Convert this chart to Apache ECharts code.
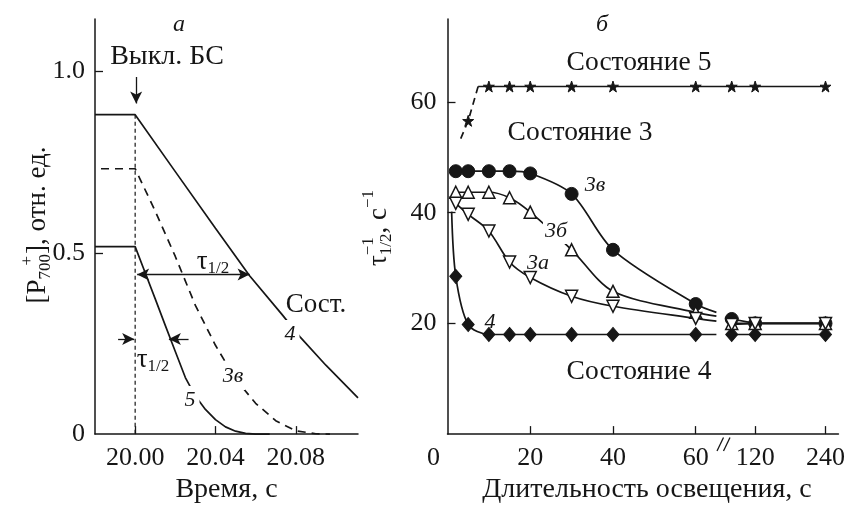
<!DOCTYPE html>
<html><head><meta charset="utf-8">
<script src="https://cdn.jsdelivr.net/npm/echarts@6/dist/echarts.min.js"></script>
<style>html,body{margin:0;padding:0;background:#fff}#c{width:848px;height:509px}</style>
</head><body><div id="c"></div>
<script>
// ---------- Panel а : P700+ kinetics after far-red light is switched off ----------
const tOff = 20.00;
const tA4  = [19.98, 20.00, 20.02, 20.04, 20.057, 20.073, 20.082, 20.095, 20.111];
const pA4  = [0.881, 0.881, 0.724, 0.568, 0.437, 0.331, 0.269, 0.19, 0.10];
const tA3v = [19.983, 20.00, 20.01, 20.02, 20.03, 20.04, 20.05, 20.06, 20.07, 20.08, 20.09, 20.097];
const pA3v = [0.732, 0.732, 0.615, 0.49, 0.355, 0.245, 0.152, 0.085, 0.037, 0.009, 0.001, 0];
const tA5  = [19.98, 20.00, 20.005, 20.01, 20.015, 20.02, 20.025, 20.03, 20.035, 20.04, 20.045, 20.05, 20.055, 20.06, 20.067];
const pA5  = [0.517, 0.517, 0.445, 0.373, 0.30, 0.228, 0.156, 0.105, 0.068, 0.040, 0.020, 0.008, 0.002, 0, 0];
const tauHalf4 = 0.057;
const tauHalf5 = 0.0168;
const xTicksA = [20.00, 20.04, 20.08];
const yTicksA = [0, 0.5, 1.0];

// ---------- Panel б : 1/tau(1/2) vs illumination duration ----------
const tIll     = [2, 5, 10, 15, 20, 30, 40, 60];
const tIllLong = [80, 120, 240];
const tau3v     = [47.5, 47.5, 47.5, 47.5, 47.1, 43.4, 33.3, 23.5];
const tau3vLong = [20.8, 20.0, 20.0];
const tau3b     = [43.7, 43.7, 43.7, 42.7, 40.1, 33.3, 25.8, 22.0];
const tau3bLong = [20.0, 20.0, 20.0];
const tau3a     = [41.7, 39.7, 36.7, 31.1, 28.3, 24.9, 23.1, 20.9];
const tau3aLong = [19.8, 20.0, 20.0];
const tau4      = [28.5, 19.8, 18.0, 18.0, 18.0, 18.0, 18.0, 18.0];
const tau4Long  = [18.0, 18.0, 18.0];
const tStar = [5, 10, 15, 20, 30, 40, 60, 80, 120, 240];
const tau5  = [56.6, 62.8, 62.8, 62.8, 62.8, 62.8, 62.8, 62.8, 62.8, 62.8];
const fit5Start = [3.2, 53.4];
const fit5Knee  = [7.4, 62.8];
const fit4Start = [1.0, 40.2];
const tEdge = 65;                       // where fitted curves stop before the axis break
const edge3v = 22.0, edge3b = 21.3, edge3a = 20.4, edge4 = 18.0;
const xTicksB = [0, 20, 40, 60, 120, 240];
const yTicksB = [20, 40, 60];

// broken axis: linear 0..65, then compressed scale around 120..240
const BK0 = 74.37, BKS = 0.1417;
function bx(v) { return v <= tEdge ? v : BK0 + (v - 120) * BKS; }
function ibx(p) { return p <= tEdge + 1 ? Math.round(p) : Math.round(120 + (p - BK0) / BKS); }

const FONT = '"Liberation Serif", "Times New Roman", serif';
const INK = '#161616';
const mctx = document.createElement('canvas').getContext('2d');
function tw(s, size, italic) { mctx.font = (italic ? 'italic ' : '') + size + 'px ' + FONT; return mctx.measureText(s).width; }

function rotatedName(cx, cy, pieces) {
  let total = 0, pend = 0;
  const pos = [];
  pieces.forEach(p => {
    const w = tw(p.t, p.s);
    if (p.back) { pos.push(total - w - (p.back || 0)); return; }
    if (p.stack) { pos.push(total); pend = Math.max(pend, w); return; }
    pos.push(total); total += Math.max(w, pend); pend = 0;
  });
  const children = pieces.map((p, i) => ({
    type: 'text', x: pos[i] - total / 2, y: p.dy || 0,
    style: { text: p.t, font: p.s + 'px ' + FONT, fill: INK, align: 'left', verticalAlign: 'middle', textAlign: 'left', textVerticalAlign: 'middle' }
  }));
  return { type: 'group', x: cx, y: cy, rotation: Math.PI / 2, z: 100, children };
}
function label(x, y, text, size, italic, bg, pad) {
  return {
    type: 'text', x, y, z: 100,
    style: {
      text, font: (italic ? 'italic ' : '') + size + 'px ' + FONT, fill: INK,
      align: 'center', verticalAlign: 'middle', textAlign: 'center', textVerticalAlign: 'middle',
      backgroundColor: bg ? '#fff' : undefined, padding: pad || 0
    }
  };
}
function richLabel(x, y, text, rich) {
  return { type: 'text', x, y, z: 100, style: { text, rich, font: '26px ' + FONT, fill: INK,
    align: 'center', verticalAlign: 'middle', textAlign: 'center', textVerticalAlign: 'middle' } };
}
const tauRich = {
  m: { fontSize: 27, fontFamily: FONT, color: INK },
  s: { fontSize: 17, fontFamily: FONT, color: INK, padding: [14, 0, 0, 0] }
};

const zip = (xs, ys) => xs.map((x, i) => [x, ys[i]]);
const LINE = { color: INK, width: 1.7 };

const chart = echarts.init(document.getElementById('c'), null, { renderer: 'canvas' });

const axisCommon = {
  axisLine: { lineStyle: { color: INK, width: 1.5 } },
  axisTick: { inside: true, length: 8, lineStyle: { color: INK, width: 1.3 } },
  splitLine: { show: false },
  axisLabel: { color: INK, fontFamily: FONT, fontSize: 26 }
};

function bSeries(data, symbol, filled, extra) {
  return Object.assign({
    type: 'line', xAxisIndex: 1, yAxisIndex: 1, data, symbol, symbolSize: 12,
    smooth: 0.3, lineStyle: LINE, animation: false, silent: true,
    itemStyle: filled ? { color: INK, borderColor: INK } : { color: '#fff', borderColor: INK, borderWidth: 1.5 },
    z: 3
  }, extra || {});
}
function preBreak(vals, edgeVal, first) {
  const d = [];
  if (first) d.push({ value: [bx(first[0]), first[1]], symbol: 'none' });
  tIll.forEach((t, i) => d.push([bx(t), vals[i]]));
  d.push({ value: [bx(tEdge), edgeVal], symbol: 'none' });
  return d;
}
const postBreak = vals => tIllLong.map((t, i) => [bx(t), vals[i]]);
const STAR = 'path://M50,0L61.8,35.1L98.9,35.1L68.9,56.9L80.3,92.1L50,70.3L19.7,92.1L31.1,56.9L1.1,35.1L38.2,35.1Z';
const NAME = { fontFamily: FONT, fontSize: 28, color: INK };

const option = {
  animation: false,
  backgroundColor: '#fff',
  grid: [
    { left: 95, top: 19, width: 263, height: 426 },
    { left: 447.5, top: 19, width: 394.5, height: 426 }
  ],
  xAxis: [
    Object.assign({}, axisCommon, {
      type: 'value', gridIndex: 0, min: 19.98, max: 20.111,
      axisTick: Object.assign({}, axisCommon.axisTick, { customValues: xTicksA }),
      axisLabel: Object.assign({}, axisCommon.axisLabel, { customValues: xTicksA, margin: 11, formatter: v => v.toFixed(2) }),
      name: 'Время, с', nameLocation: 'middle', nameGap: 31, nameTextStyle: NAME
    }),
    Object.assign({}, axisCommon, {
      type: 'value', gridIndex: 1, min: 0, max: 94.5,
      axisTick: Object.assign({}, axisCommon.axisTick, { customValues: xTicksB.slice(1).map(bx) }),
      axisLabel: Object.assign({}, axisCommon.axisLabel, {
        customValues: xTicksB.map(bx), margin: 11,
        formatter: v => (v === 0 ? '{o|0}' : String(ibx(v))),
        rich: { o: { fontFamily: FONT, fontSize: 26, color: INK, padding: [0, 28, 0, 0] } }
      }),
      name: 'Длительность освещения, с', nameLocation: 'middle', nameGap: 31,
      nameTextStyle: Object.assign({}, NAME, { padding: [0, 0, 0, 8] })
    })
  ],
  yAxis: [
    Object.assign({}, axisCommon, {
      type: 'value', gridIndex: 0, min: 0, max: 1.145,
      axisTick: Object.assign({}, axisCommon.axisTick, { customValues: yTicksA.slice(1) }),
      axisLabel: Object.assign({}, axisCommon.axisLabel, { customValues: yTicksA, margin: 10, formatter: v => (v === 0 ? '0' : v.toFixed(1)) })
    }),
    Object.assign({}, axisCommon, {
      type: 'value', gridIndex: 1, min: 0, max: 75,
      axisTick: Object.assign({}, axisCommon.axisTick, { customValues: yTicksB }),
      axisLabel: Object.assign({}, axisCommon.axisLabel, { customValues: yTicksB, margin: 11 })
    })
  ],
  series: [
    // ----- panel а -----
    { type: 'line', xAxisIndex: 0, yAxisIndex: 0, data: [[tOff, pA4[0]], [tOff, 0]], symbol: 'none',
      lineStyle: { color: INK, width: 1.2, type: [4, 3] }, silent: true, z: 2 },
    { type: 'line', xAxisIndex: 0, yAxisIndex: 0, data: zip(tA4, pA4), symbol: 'none', lineStyle: LINE, silent: true, z: 3,
      markLine: {
        silent: true, animation: false, symbolSize: [9, 12], label: { show: false },
        lineStyle: { color: INK, width: 1.3, type: 'solid' }, emphasis: { disabled: true },
        data: [
          [{ coord: [tOff + 0.0005, 0.985], symbol: 'none' }, { coord: [tOff + 0.0005, 0.912], symbol: 'arrow' }],
          [{ coord: [tOff + 0.001, pA4[0] / 2], symbol: 'arrow' }, { coord: [tOff + tauHalf4, pA4[0] / 2], symbol: 'arrow' }],
          [{ coord: [tOff - 0.0085, pA5[0] / 2 + 0.004], symbol: 'none' }, { coord: [tOff - 0.0005, pA5[0] / 2 + 0.004], symbol: 'arrow' }],
          [{ coord: [tOff + tauHalf5 + 0.0098, pA5[0] / 2 + 0.004], symbol: 'none' }, { coord: [tOff + tauHalf5, pA5[0] / 2 + 0.004], symbol: 'arrow' }]
        ]
      } },
    { type: 'line', xAxisIndex: 0, yAxisIndex: 0, data: zip(tA3v, pA3v), symbol: 'none',
      lineStyle: { color: INK, width: 1.7, type: [8, 6] }, silent: true, z: 3 },
    { type: 'line', xAxisIndex: 0, yAxisIndex: 0, data: zip(tA5, pA5), symbol: 'none', lineStyle: LINE, silent: true, z: 3 },

    // ----- panel б -----
    bSeries([{ value: [bx(fit5Start[0]), fit5Start[1]], symbol: 'none' }, [bx(tStar[0]), tau5[0]],
             { value: [bx(fit5Knee[0]), fit5Knee[1]], symbol: 'none' }], STAR, true,
            { smooth: false, symbolSize: 11, lineStyle: { color: INK, width: 1.7, type: [7, 5] } }),
    bSeries([{ value: [bx(fit5Knee[0]), fit5Knee[1]], symbol: 'none' }].concat(tStar.slice(1).map((t, i) => [bx(t), tau5[i + 1]])),
            STAR, true, { smooth: false, symbolSize: 11 }),
    bSeries(preBreak(tau3v, edge3v), 'circle', true, { symbolSize: 13 }),
    bSeries(postBreak(tau3vLong), 'circle', true, { smooth: false, symbolSize: 13 }),
    bSeries(preBreak(tau3b, edge3b), 'triangle', false, { z: 4 }),
    bSeries(postBreak(tau3bLong), 'triangle', false, { smooth: false, z: 4 }),
    bSeries(preBreak(tau3a, edge3a), 'triangle', false, { symbolRotate: 180, z: 5 }),
    bSeries(postBreak(tau3aLong), 'triangle', false, { smooth: false, symbolRotate: 180, z: 5 }),
    bSeries(preBreak(tau4, edge4, fit4Start), 'diamond', true, { symbolSize: [12, 14] }),
    bSeries(postBreak(tau4Long), 'diamond', true, { smooth: false, symbolSize: [12, 14] })
  ],
  graphic: [
    // axis names (rotated)
    rotatedName(38, 225, [
      { t: '[P', s: 27 }, { t: '700', s: 17, dy: 8 }, { t: '+', s: 17, dy: -10, back: 2 }, { t: '], отн. ед.', s: 27 }
    ]),
    rotatedName(379, 228, [
      { t: 'τ', s: 27 }, { t: '−1', s: 17, dy: -10, stack: true }, { t: '1/2', s: 17, dy: 8 }, { t: ', с', s: 27 }, { t: '−1', s: 17, dy: -10 }
    ]),
    // panel а annotations
    label(179, 25, 'а', 24, true),
    label(167, 57, 'Выкл. БС', 28, false),
    richLabel(213, 262, '{m|τ}{s|1/2}', tauRich),
    richLabel(153, 360, '{m|τ}{s|1/2}', tauRich),
    label(316, 305, 'Сост.', 27, false),
    label(290, 334, '4', 22, true, true, [3, 4, 3, 4]),
    label(233, 376, '3в', 22, true, true, [3, 2, 3, 2]),
    label(190, 400, '5', 22, true, true, [3, 4, 3, 4]),
    // panel б annotations
    label(602, 25, 'б', 24, true),
    label(639, 63, 'Состояние 5', 27.5, false),
    label(580, 133, 'Состояние 3', 27.5, false),
    label(639, 372, 'Состояние 4', 27.5, false),
    label(595, 185, '3в', 22, true),
    label(556, 231, '3б', 22, true, true, [2, 2, 2, 2]),
    label(538, 263, '3а', 22, true),
    label(490, 322, '4', 22, true),
    // axis break mark
    { type: 'rect', z: 100, shape: { x: 719.5, y: 441, width: 8, height: 8 }, style: { fill: '#fff' } },
    { type: 'line', z: 101, shape: { x1: 717, y1: 451, x2: 723.5, y2: 437.5 }, style: { stroke: INK, lineWidth: 1.3 } },
    { type: 'line', z: 101, shape: { x1: 723.5, y1: 451, x2: 730, y2: 437.5 }, style: { stroke: INK, lineWidth: 1.3 } }
  ]
};
chart.setOption(option);
</script>
</body></html>
